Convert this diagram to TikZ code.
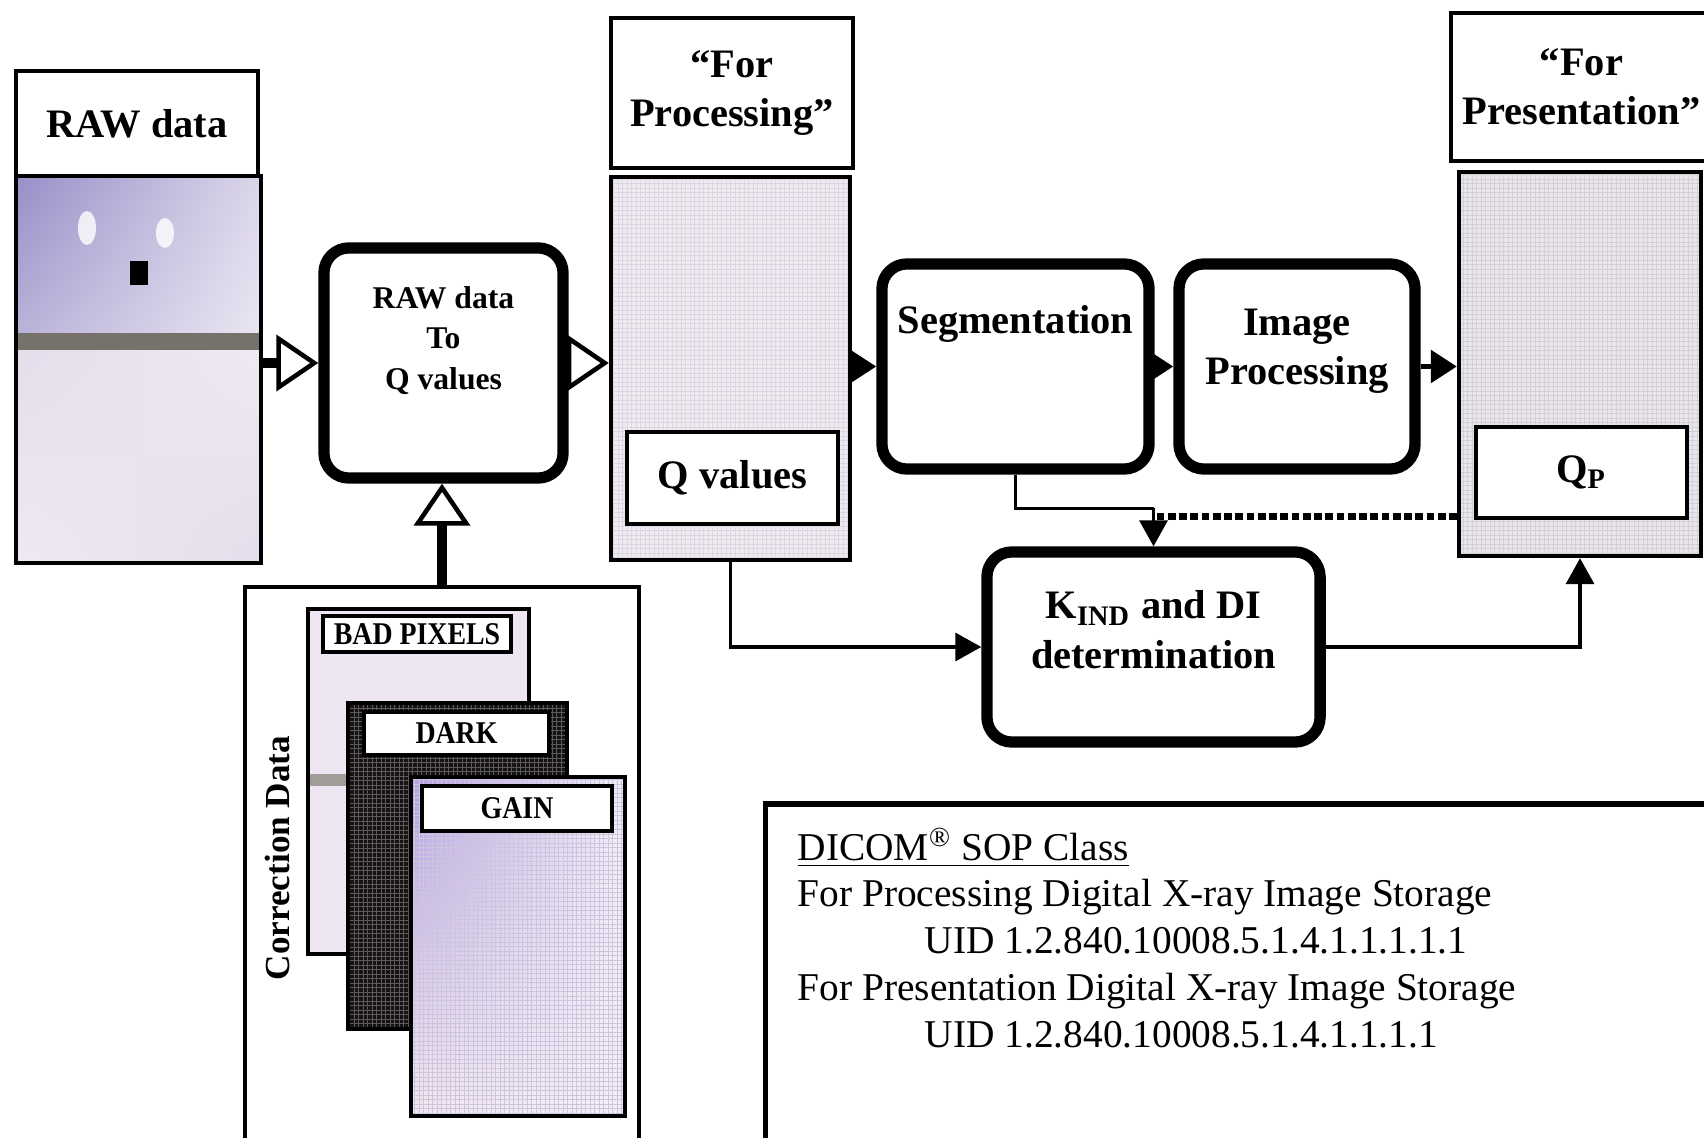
\documentclass[tikz,border=0pt]{standalone}
\usepackage{fontspec}
\setmainfont{Liberation Serif}
\newfontfamily\sheetfont[FakeStretch=0.88]{Liberation Serif}
\usetikzlibrary{arrows.meta, positioning, shadings}

\definecolor{rawpurple}{HTML}{978FC8}
\definecolor{rawpale}{HTML}{DCD6EA}
\definecolor{rawlow}{HTML}{E4DEEC}
\definecolor{rawlow2}{HTML}{EEE9F2}
\definecolor{stripe}{HTML}{77716C}
\definecolor{qfill}{HTML}{EFEBF1}
\definecolor{qgrid}{HTML}{DDD7E3}
\definecolor{badfill}{HTML}{EEE6F3}
\definecolor{badgrid}{HTML}{B5ADCB}
\definecolor{darkfill}{HTML}{141212}
\definecolor{darkgrid}{HTML}{5E5959}
\definecolor{gainpurple}{HTML}{B3A0E2}
\definecolor{gainpale}{HTML}{F2EEF8}

\begin{document}
\begin{tikzpicture}[
    x=0.01cm, y=-0.01cm,
    >=Latex,
    openarrow/.style={-{Triangle[open, length=4.2mm, width=5.6mm, line width=1.3pt]}, line width=2.8pt},
    fillarrow/.style={-{Triangle[length=2.6mm, width=3.2mm]}, line width=1.6pt},
    thinarrow/.style={-{Triangle[length=2.6mm, width=2.8mm]}, line width=1pt},
    dashline/.style={line width=2pt, dash pattern=on 2.2pt off 1pt},
    headbox/.style={draw, line width=1.2pt, fill=white, align=center, font=\bfseries\fontsize{11.5}{14}\selectfont},
    imgbox/.style={draw, line width=1.2pt},
    procbox/.style={draw, line width=3.2pt, rounded corners=2.5mm, align=center, font=\bfseries\fontsize{11.5}{14}\selectfont},
    qbox/.style={draw, line width=1.2pt, fill=white, font=\bfseries\fontsize{11.5}{14}\selectfont},
    sheethead/.style={draw, line width=1.2pt, fill=white, inner sep=0pt, font=\sheetfont\bfseries\fontsize{9}{10}\selectfont},
    gridfill/.style={path picture={
        \draw[#1, line width=0.25pt, step=0.45mm]
          (path picture bounding box.south west) grid (path picture bounding box.north east);}}
]
\useasboundingbox (0,0) rectangle (1704,1137);

    % Imagem RAW
    \node[headbox, minimum width=2.42cm, minimum height=1.05cm] (rawhead) at (137,123.5) {RAW data};
    \shade[upper left=rawpurple, upper right=rawpale, lower left=rawpurple!50!rawpale, lower right=rawpale!60!white]
      (16,176) rectangle (261,335);
    \shade[upper left=rawlow, upper right=rawlow2, lower left=rawlow2, lower right=rawlow]
      (16,348) rectangle (261,563);
    \fill[stripe] (16,333) rectangle (261,350);
    \fill[white, opacity=.8] (87,228) ellipse [x radius=9, y radius=17];
    \fill[white, opacity=.8] (165,233) ellipse [x radius=9, y radius=15];
    \fill[black] (130,261) rectangle (148,285);
    \node[imgbox, minimum width=2.45cm, minimum height=3.87cm] (rawimg) at (138.5,369.5) {};

    % Conversao RAW -> Q
    \node[procbox, minimum width=2.39cm, minimum height=2.3cm, text depth=0.5cm, font=\bfseries\fontsize{9}{11.4}\selectfont] (conv) at (443.5,363) {RAW data\\To\\Q values};

    % "For Processing"
    \node[headbox, minimum width=2.42cm, minimum height=1.5cm] (fphead) at (732,93) {``For\\Processing''};
    \node[imgbox, fill=qfill, gridfill=qgrid, minimum width=2.39cm, minimum height=3.83cm] (fpimg) at (730.5,368.5) {};
    \node[qbox, minimum width=2.11cm, minimum height=0.92cm] (qval) at (732.5,478) {Q values};

    % Processamento
    \node[procbox, minimum width=2.67cm, minimum height=2.05cm, text height=0.3cm, text depth=0.95cm] (seg) at (1015.5,366.5) {Segmentation};
    \node[procbox, minimum width=2.36cm, minimum height=2.05cm, text depth=0.4cm] (imgproc) at (1297,366.5) {Image\\Processing};

    % "For Presentation"
    \node[headbox, minimum width=2.39cm, minimum height=1.48cm] (prhead) at (1581.5,87) {``For\\Presentation''};
    \node[imgbox, fill=qfill!95!gray, gridfill=qgrid!90!gray, minimum width=2.42cm, minimum height=3.84cm] (primg) at (1580,364) {};
    \node[qbox, minimum width=2.11cm, minimum height=0.91cm] (qp) at (1581.5,472.5) {Q\textsubscript{P}};

    % Indice de exposicao
    \node[procbox, minimum width=3.33cm, minimum height=1.9cm, text depth=0.35cm] (kind) at (1153.5,647) {K\textsubscript{IND} and DI\\determination};

    % Dados de correcao
    \node[draw, line width=1.2pt, minimum width=3.94cm, minimum height=5.6cm] (corr) at (442,867) {};
    \node[rotate=90, font=\bfseries\fontsize{10}{12}\selectfont] (corrtxt) at (277,858) {Correction Data};

    \node[draw, line width=1.2pt, fill=badfill, gridfill=badgrid, minimum width=2.21cm, minimum height=3.45cm, path picture={
        \fill[stripe!70!white] ([yshift=-1.65cm]path picture bounding box.north west) rectangle ++(2.21cm,-0.12cm);}] (badpix) at (418.5,781.5) {};
    \node[sheethead, minimum width=1.88cm, minimum height=0.36cm] (badhead) at (417,634) {BAD PIXELS};

    \node[draw, line width=1.2pt, fill=darkfill, gridfill=darkgrid, minimum width=2.19cm, minimum height=3.26cm] (dark) at (457.5,866) {};
    \node[sheethead, minimum width=1.85cm, minimum height=0.43cm] (darkhead) at (456.5,733.5) {DARK};

    \node[draw, line width=1.2pt, minimum width=2.14cm, minimum height=3.39cm, path picture={
        \shade[upper left=gainpurple, upper right=gainpale, lower left=gainpale!85!pink, lower right=gainpale]
          (path picture bounding box.north west) rectangle (path picture bounding box.south east);
        \draw[badgrid!70!white, line width=0.25pt, step=0.45mm]
          (path picture bounding box.south west) grid (path picture bounding box.north east);}] (gain) at (518,946.5) {};
    \node[sheethead, minimum width=1.9cm, minimum height=0.45cm] (gainhead) at (517,808.5) {GAIN};

    % Classes DICOM
    \node[draw, line width=1.5pt, minimum width=9.44cm, minimum height=3.41cm] (dicom) at (1238,974.5) {};
    \node[anchor=north west, align=left, inner sep=0pt, font=\fontsize{11.2}{13.3}\selectfont] (dicomtxt) at (797,827) {%
        \underline{DICOM\textsuperscript{®} SOP Class}\\
        For Processing Digital X-ray Image Storage\\
        \hspace*{1.27cm}UID 1.2.840.10008.5.1.4.1.1.1.1.1\\
        For Presentation Digital X-ray Image Storage\\
        \hspace*{1.27cm}UID 1.2.840.10008.5.1.4.1.1.1.1};

    % Fluxo principal
    \draw[openarrow] (rawimg.east |- conv.west) -- (conv.west);
    \draw[openarrow] (conv.east) -- (conv.east -| fpimg.west);
    \draw[openarrow] (corr.north) -- (corr.north |- conv.south);
    \draw[fillarrow] (fpimg.east |- seg.west) -- (seg.west);
    \draw[fillarrow] (seg.east) -- (imgproc.west);
    \draw[fillarrow] (imgproc.east) -- (imgproc.east -| primg.west);

    % Ligacoes ao bloco KIND
    \path (kind.north) ++(0,-38) coordinate (join);
    \path (join) ++(0,8) coordinate (dashend);
    \draw[line width=1pt] (seg.south) |- (join);
    \draw[thinarrow] (join) -- (kind.north);
    \draw[dashline] (primg.west |- dashend) -- (dashend);
    \draw[thinarrow] (fpimg.south) |- (kind.west);
    \draw[thinarrow] (kind.east) -| (primg.south);

\end{tikzpicture}
\end{document}
